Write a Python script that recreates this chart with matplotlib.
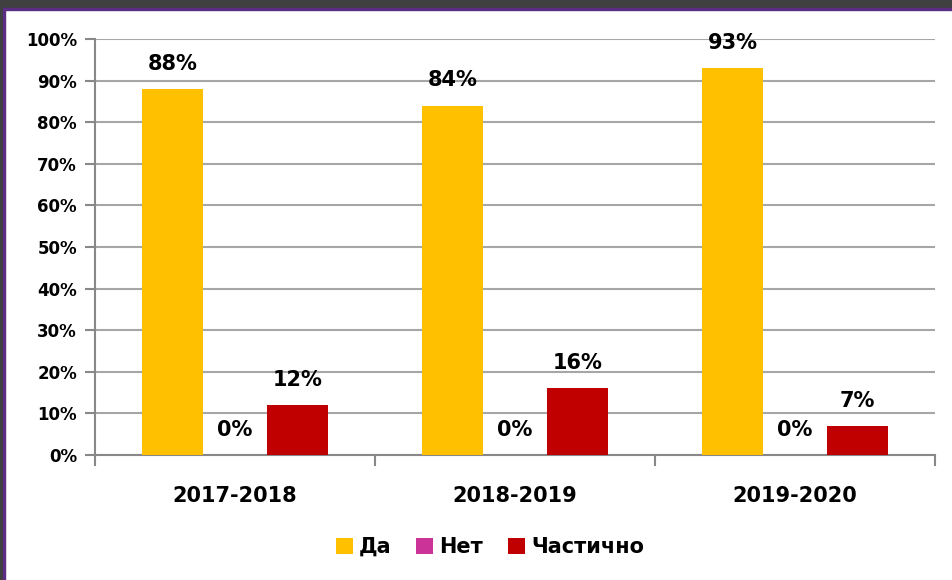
import matplotlib
matplotlib.use("Agg")
from matplotlib import pyplot as plt
from matplotlib.patches import Rectangle
import numpy as np

years = ["2017-2018", "2018-2019", "2019-2020"]
series = ["Да", "Нет", "Частично"]
da = [88, 84, 93]
net = [0, 0, 0]
chast = [12, 16, 7]
colors = ["#FFC000", "#CC3399", "#C00000"]
yticks = [0, 10, 20, 30, 40, 50, 60, 70, 80, 90, 100]

plt.rcParams["font.family"] = ["DejaVu Sans"]
plt.rcParams["font.weight"] = "bold"

fig = plt.figure(figsize=(9.53, 5.80), dpi=100)
fig.patch.set_facecolor("white")

# dark frame on top / left like the slide screenshot
fig.patches.append(Rectangle((0, 1 - 8 / 580), 1, 8 / 580, transform=fig.transFigure,
                             color="#404040", zorder=0))
fig.patches.append(Rectangle((0, 1 - 10 / 580), 1, 2 / 580, transform=fig.transFigure,
                             color="#5B2C83", zorder=0))
fig.patches.append(Rectangle((0, 0), 3 / 953, 1, transform=fig.transFigure,
                             color="#404040", zorder=0))
fig.patches.append(Rectangle((3 / 953, 0), 1.5 / 953, 1 - 8 / 580, transform=fig.transFigure,
                             color="#5B2C83", zorder=0))

ax = fig.add_axes([95 / 953, 1 - 455 / 580, (935 - 95) / 953, (455 - 39) / 580])

x = np.arange(len(years))
w = 0.22
offs = [-0.223, 0.0, 0.223]
for vals, off, c, name in zip([da, net, chast], offs, colors, series):
    bars = ax.bar(x + off, vals, w, color=c, label=name, zorder=3)
    for b, v in zip(bars, vals):
        ax.annotate("%d%%" % v, (b.get_x() + b.get_width() / 2, v),
                    xytext=(0, 11), textcoords="offset points",
                    ha="center", va="bottom", fontsize=15, fontweight="bold")

ax.set_xlim(-0.5, len(years) - 0.5)
ax.set_ylim(0, 100)
ax.set_yticks(yticks)
ax.set_yticklabels(["%d%%" % t for t in yticks], fontsize=12, fontweight="bold")
ax.set_xticks(np.arange(len(years) + 1) - 0.5, minor=False)
ax.set_xticklabels([])
ax.set_xticks(x, minor=True)
ax.set_xticklabels(years, minor=True, fontsize=15, fontweight="bold")
ax.tick_params(axis="x", which="major", length=8, width=1.5, color="#888888")
ax.tick_params(axis="x", which="minor", length=0, pad=22)
ax.tick_params(axis="y", length=7, width=1.5, color="#888888", pad=6)

ax.grid(axis="y", color="#A6A6A6", linewidth=1.5, zorder=0)
for s in ["top", "right"]:
    ax.spines[s].set_visible(False)
ax.spines["left"].set_color("#888888")
ax.spines["left"].set_linewidth(1.5)
ax.spines["bottom"].set_color("#888888")
ax.spines["bottom"].set_linewidth(1.5)

leg = fig.legend(loc="center", bbox_to_anchor=(490 / 953, 1 - 547 / 580), ncol=3,
                 frameon=False, fontsize=15, handlelength=0.8, handleheight=0.8,
                 handletextpad=0.3, columnspacing=1.2)
for t in leg.get_texts():
    t.set_fontweight("bold")

fig.savefig("out.png", dpi=100)
